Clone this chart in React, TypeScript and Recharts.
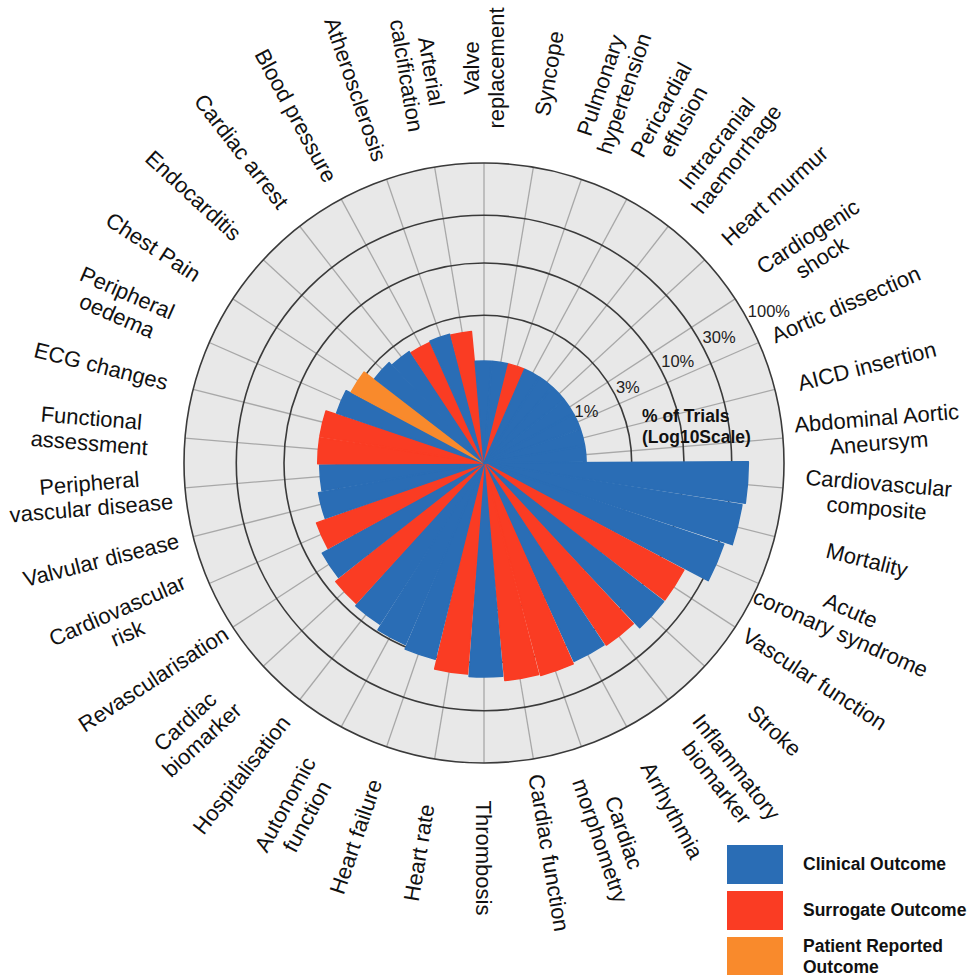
import React from 'react';
import {
  RadialBarChart,
  RadialBar,
  PolarAngleAxis,
  PolarRadiusAxis,
  PolarGrid,
  Cell,
} from 'recharts';

// outcome categories, clockwise from 3 o'clock
const categories = [
  'Cardiovascular\ncomposite',
  'Mortality',
  'Acute\ncoronary syndrome',
  'Vascular function',
  'Stroke',
  'Inflammatory\nbiomarker',
  'Arrhythmia',
  'Cardiac\nmorphometry',
  'Cardiac function',
  'Thrombosis',
  'Heart rate',
  'Heart failure',
  'Autonomic\nfunction',
  'Hospitalisation',
  'Cardiac\nbiomarker',
  'Revascularisation',
  'Cardiovascular\nrisk',
  'Valvular disease',
  'Peripheral\nvascular disease',
  'Functional\nassessment',
  'ECG changes',
  'Peripheral\noedema',
  'Chest Pain',
  'Endocarditis',
  'Cardiac arrest',
  'Blood pressure',
  'Atherosclerosis',
  'Arterial\ncalcification',
  'Valve\nreplacement',
  'Syncope',
  'Pulmonary\nhypertension',
  'Pericardial\neffusion',
  'Intracranial\nhaemorrhage',
  'Heart murmur',
  'Cardiogenic\nshock',
  'Aortic dissection',
  'AICD insertion',
  'Abdominal Aortic\nAneursym',
];

// % of trials reporting each outcome
const pctOfTrials = [
  44, 41, 34, 18.5, 18.5, 15.6, 15.1, 15.8, 15.3, 13.8, 13.1, 10.5, 9.5,
  8.3, 7.9, 7.1, 6.0, 4.8, 4.4, 4.6, 4.6, 3.6, 3.2, 2.4, 2.2, 2.1, 2.15,
  2.1, 1.05, 1.05, 1.05, 1.05, 1.05, 1.05, 1.05, 1.05, 1.05, 1.05,
];

const outcomeTypes = [
  'clinical', 'clinical', 'clinical', 'surrogate', 'clinical', 'surrogate',
  'clinical', 'surrogate', 'surrogate', 'clinical', 'surrogate', 'clinical',
  'clinical', 'clinical', 'surrogate', 'clinical', 'surrogate', 'clinical',
  'clinical', 'surrogate', 'surrogate', 'clinical', 'patient', 'clinical',
  'clinical', 'surrogate', 'clinical', 'surrogate', 'clinical', 'clinical',
  'surrogate', 'clinical', 'clinical', 'clinical', 'clinical', 'clinical',
  'clinical', 'clinical',
];

const radiusTicks = [1, 3, 10, 30, 100];

const legendKeys = ['clinical', 'surrogate', 'patient'];
const legendLabels = ['Clinical Outcome', 'Surrogate Outcome', 'Patient Reported\nOutcome'];

const colors = {
  clinical: '#2A6DB5',
  surrogate: '#FA3C23',
  patient: '#F98A2C',
};

const data = categories.map((name, i) => ({
  name,
  value: pctOfTrials[i],
  outcome: outcomeTypes[i],
}));

const CX = 484;
const CY = 463;
const OUTER = 300;
const LABEL_R = 395;
const STEP = 360 / categories.length;
const centreAngles = categories.map((_, i) => -(i + 0.5) * STEP);
// recharts places centric bars half a band (+4deg tick offset) past the band start
const ANGLE_SHIFT = -(STEP / 2 + 4);

const FONT = '"Liberation Sans", Arial, Helvetica, sans-serif';

const CategoryTick = (props) => {
  const { index } = props;
  const lines = categories[index].split('\n');
  let theta = centreAngles[index];
  if (theta <= -180) theta += 360;
  const rad = (theta * Math.PI) / 180;
  const x = CX + LABEL_R * Math.cos(rad);
  const y = CY - LABEL_R * Math.sin(rad);
  const right = theta >= -90.5 && theta <= 90.5;
  const rot = right ? -theta : 180 - theta;

  return (
    <text
      transform={`rotate(${rot} ${x} ${y})`}
      textAnchor="middle"
      fontSize={22}
      fill="#111"
      fontFamily={FONT}
    >
      {lines.map((line, k) => (
        <tspan key={k} x={x} y={y + (k - (lines.length - 1) / 2) * 25} dy="0.35em">
          {line}
        </tspan>
      ))}
    </text>
  );
};

const PercentTick = ({ x, y, payload }) => (
  <text x={x + 4} y={y - 2} dy="0.35em" fontSize={16.5} fill="#222" fontFamily={FONT}>
    {payload.value}%
  </text>
);

export default function App() {
  return (
    <div
      style={{
        position: 'absolute',
        left: 0,
        top: 0,
        width: 970,
        height: 975,
        overflow: 'hidden',
        background: '#fff',
        fontFamily: FONT,
      }}
    >
      <div
        style={{
          position: 'absolute',
          left: CX - OUTER,
          top: CY - OUTER,
          width: OUTER * 2,
          height: OUTER * 2,
          borderRadius: '50%',
          background: '#E8E8E8',
        }}
      />
      <div style={{ position: 'absolute', left: 0, top: 0 }}>
        <RadialBarChart
          width={970}
          height={975}
          data={data}
          layout="centric"
          cx={CX}
          cy={CY}
          innerRadius={0}
          outerRadius={OUTER}
          startAngle={ANGLE_SHIFT}
          endAngle={ANGLE_SHIFT - 360}
          barCategoryGap={0}
          margin={{ top: 0, right: 0, bottom: 0, left: 0 }}
        >
          <PolarGrid
            gridType="circle"
            polarAngles={centreAngles}
            polarRadius={[]}
            stroke="#a8a8a8"
            strokeWidth={1.3}
          />
          <PolarGrid gridType="circle" radialLines={false} stroke="#3a3a3a" strokeWidth={1.6} />
          <PolarAngleAxis
            type="category"
            dataKey="name"
            axisLine={false}
            tickLine={false}
            tick={CategoryTick}
          />
          <PolarRadiusAxis
            type="number"
            scale="log"
            domain={[0.1, 100]}
            ticks={radiusTicks}
            angle={30}
            axisLine={false}
            tickLine={false}
            tick={PercentTick}
          />
          <RadialBar dataKey="value" isAnimationActive={false}>
            {data.map((row, i) => (
              <Cell
                key={`cell-${i}`}
                fill={colors[row.outcome]}
                stroke={colors[row.outcome]}
                strokeWidth={1.5}
                strokeLinejoin="round"
              />
            ))}
          </RadialBar>
          <text x={642} y={416} dy="0.35em" fontSize={17.5} fontWeight="bold" fill="#111" fontFamily={FONT}>
            % of Trials
          </text>
          <text x={642} y={437} dy="0.35em" fontSize={17.5} fontWeight="bold" fill="#111" fontFamily={FONT}>
            (Log10Scale)
          </text>
        </RadialBarChart>
      </div>
      <div style={{ position: 'absolute', left: 727, top: 845 }}>
        {legendKeys.map((key, i) => (
          <div key={key} style={{ display: 'flex', alignItems: 'center', height: 39, marginBottom: 7 }}>
            <div style={{ width: 56, height: 39, background: colors[key], flex: 'none' }} />
            <div
              style={{
                marginLeft: 20,
                fontWeight: 'bold',
                fontSize: 17.5,
                lineHeight: '21px',
                whiteSpace: 'pre',
                color: '#111',
              }}
            >
              {legendLabels[i]}
            </div>
          </div>
        ))}
      </div>
    </div>
  );
}
